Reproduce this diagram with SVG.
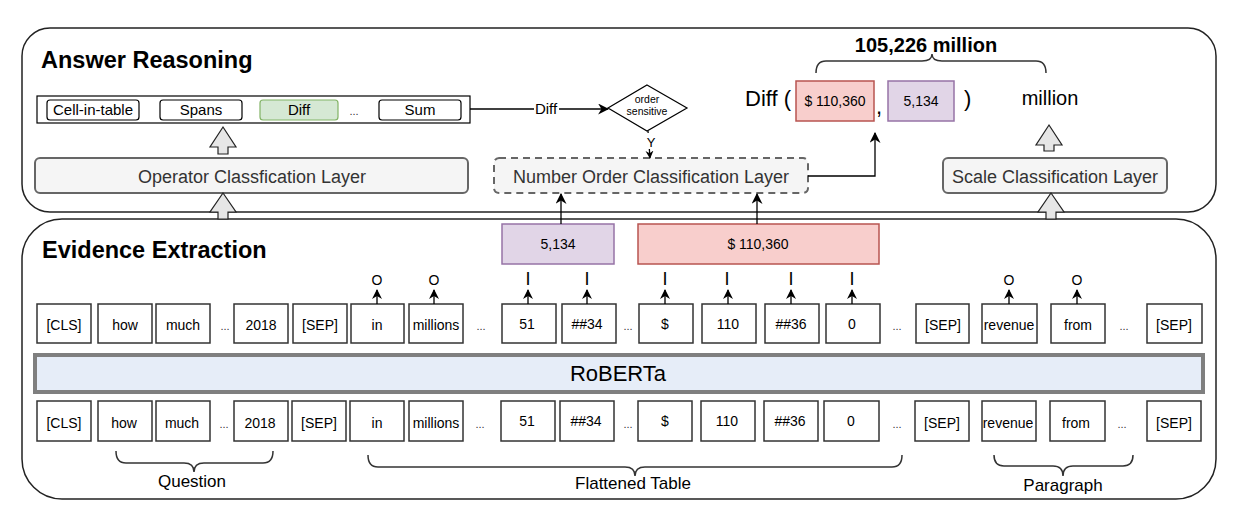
<svg xmlns="http://www.w3.org/2000/svg" width="1239" height="517" viewBox="0 0 1239 517">
<defs>
<marker id="ah" viewBox="0 0 10 10" refX="9" refY="5" markerWidth="8" markerHeight="8" orient="auto" markerUnits="userSpaceOnUse">
<path d="M0,0 L10,5 L0,10 L3,5 z" fill="#000"/>
</marker>
<marker id="ahs" viewBox="0 0 10 10" refX="9" refY="5" markerWidth="10" markerHeight="10" orient="auto" markerUnits="userSpaceOnUse">
<path d="M0,0 L10,5 L0,10 L3,5 z" fill="#000"/>
</marker>
<marker id="ahb" viewBox="0 0 10 10" refX="9" refY="5" markerWidth="11" markerHeight="11" orient="auto" markerUnits="userSpaceOnUse">
<path d="M0,0 L10,5 L0,10 L3,5 z" fill="#000"/>
</marker>
</defs>
<style>
text{font-family:"Liberation Sans",Arial,sans-serif;fill:#000}
.cont{fill:#fff;stroke:#222;stroke-width:1.5}
.title{font-size:23.5px;font-weight:bold}
.layer{fill:#f5f5f5;stroke:#666;stroke-width:2}
.ltxt{font-size:18px;fill:#333;text-anchor:middle}
.op{fill:#fff;stroke:#000;stroke-width:1.2}
.optxt{font-size:15px;text-anchor:middle}
.tok{fill:#fff;stroke:#333;stroke-width:1.5}
.tt{font-size:14px;text-anchor:middle}
.dots{font-size:11px;fill:#333;text-anchor:middle}
.tag{font-size:14px;text-anchor:middle}
.tagi{font-size:18px;text-anchor:middle}
.blk{fill:#e6e6e6;stroke:#222;stroke-width:1.2}
.ln{fill:none;stroke:#000;stroke-width:1.3}
.brace{fill:none;stroke:#333;stroke-width:1.5}
.red{fill:#f8cecc;stroke:#b85450;stroke-width:1.5}
.pur{fill:#e1d5e7;stroke:#9673a6;stroke-width:1.5}
.lbl{font-size:17px;text-anchor:middle}
</style>

<g id="answer-reasoning">
<rect class="cont" x="22" y="28" width="1194" height="184" rx="28"/>
<text class="title" x="41" y="68">Answer Reasoning</text>
</g>
<g id="evidence-extraction">
<rect class="cont" x="22" y="219" width="1194" height="280" rx="40"/>
<text class="title" x="42" y="258">Evidence Extraction</text>
</g>

<g id="operator-list">
<rect x="37" y="96" width="433" height="27" fill="#fff" stroke="#000" stroke-width="1.2"/>
<rect class="op" x="47" y="100" width="92" height="20" rx="3"/>
<text class="optxt" x="93" y="115">Cell-in-table</text>
<rect class="op" x="160" y="100" width="82" height="20" rx="3"/>
<text class="optxt" x="201" y="115">Spans</text>
<rect x="260" y="100" width="78" height="20" rx="3" fill="#d5e8d4" stroke="#82b366" stroke-width="1.2"/>
<text class="optxt" x="299" y="115">Diff</text>
<text class="dots" x="354" y="115">...</text>
<rect class="op" x="379" y="100" width="82" height="20" rx="3"/>
<text class="optxt" x="420" y="115">Sum</text>
</g>

<g id="operator-layer">
<rect class="layer" x="35" y="158" width="433" height="35" rx="5"/>
<text class="ltxt" x="252" y="183">Operator Classfication Layer</text>
</g>

<g id="order-sensitive">
<polygon points="647,85 687,108 647,131 608,108" fill="#fff" stroke="#000" stroke-width="1.2"/>
<text x="647" y="103" font-size="10.5" text-anchor="middle">order</text>
<text x="647" y="115" font-size="10.5" text-anchor="middle">sensitive</text>
</g>

<g id="number-order-layer">
<rect class="layer" x="494" y="158" width="314" height="35" rx="5" stroke-dasharray="7,5"/>
<text class="ltxt" x="651" y="183">Number Order Classification Layer</text>
</g>

<g id="scale-layer">
<rect class="layer" x="943" y="158" width="224" height="35" rx="5"/>
<text class="ltxt" x="1055" y="183">Scale Classification Layer</text>
</g>

<g id="result">
<text x="745" y="106" font-size="22">Diff (</text>
<rect class="red" x="796" y="81" width="78" height="40"/>
<text x="835" y="106" font-size="14" text-anchor="middle">$ 110,360</text>
<text x="879" y="114" font-size="22" text-anchor="middle">,</text>
<rect class="pur" x="888" y="81" width="66" height="40"/>
<text x="921" y="106" font-size="14" text-anchor="middle">5,134</text>
<text x="964" y="106" font-size="22">)</text>
<text x="1050" y="105" font-size="20" text-anchor="middle">million</text>
<path class="brace" d="M816,73 Q816,61 826,61 L922,61 Q932,61 932,54 Q932,61 942,61 L1036,61 Q1046,61 1046,73"/>
<text x="926" y="52" font-size="20" font-weight="bold" text-anchor="middle">105,226 million</text>
</g>

<g id="span-5134">
<rect class="pur" x="502" y="224" width="112" height="40"/>
<text x="558" y="249" font-size="14" text-anchor="middle">5,134</text>
</g>
<g id="span-110360">
<rect class="red" x="638" y="224" width="241" height="40"/>
<text x="758" y="249" font-size="14" text-anchor="middle">$ 110,360</text>
</g>

<g id="roberta">
<rect x="35" y="355" width="1168" height="37" fill="#e6edf8" stroke="#7f7f7f" stroke-width="4"/>
<text x="618" y="381" font-size="22" text-anchor="middle">RoBERTa</text>
</g>

<g id="output-tokens">
<rect class="tok" x="37" y="304" width="54" height="39"/><text class="tt" x="64" y="330">[CLS]</text>
<rect class="tok" x="98" y="304" width="54" height="39"/><text class="tt" x="125" y="330">how</text>
<rect class="tok" x="156" y="304" width="54" height="39"/><text class="tt" x="183" y="330">much</text>
<text class="dots" x="225" y="330">...</text>
<rect class="tok" x="234" y="304" width="54" height="39"/><text class="tt" x="261" y="330">2018</text>
<rect class="tok" x="293" y="304" width="54" height="39"/><text class="tt" x="320" y="330">[SEP]</text>
<rect class="tok" x="351" y="304" width="53" height="39"/><text class="tt" x="377" y="330">in</text>
<rect class="tok" x="409" y="304" width="54" height="39"/><text class="tt" x="436" y="330">millions</text>
<text class="dots" x="481" y="330">...</text>
<rect class="tok" x="502" y="304" width="54" height="39"/><text class="tt" x="527" y="329">51</text>
<rect class="tok" x="562" y="304" width="54" height="39"/><text class="tt" x="587" y="329">##34</text>
<text class="dots" x="628" y="330">...</text>
<rect class="tok" x="639" y="304" width="54" height="39"/><text class="tt" x="665" y="329">$</text>
<rect class="tok" x="702" y="304" width="54" height="39"/><text class="tt" x="728" y="329">110</text>
<rect class="tok" x="765" y="304" width="54" height="39"/><text class="tt" x="791" y="329">##36</text>
<rect class="tok" x="826" y="304" width="54" height="39"/><text class="tt" x="852" y="329">0</text>
<text class="dots" x="897" y="330">...</text>
<rect class="tok" x="916" y="304" width="53" height="39"/><text class="tt" x="943" y="330">[SEP]</text>
<rect class="tok" x="982" y="304" width="55" height="39"/><text class="tt" x="1009" y="330">revenue</text>
<rect class="tok" x="1051" y="304" width="54" height="39"/><text class="tt" x="1078" y="330">from</text>
<text class="dots" x="1124" y="330">...</text>
<rect class="tok" x="1147" y="304" width="55" height="39"/><text class="tt" x="1174" y="330">[SEP]</text>
</g>

<g id="tags">
<text class="tag" x="377" y="285">O</text>
<text class="tag" x="434" y="285">O</text>
<text class="tagi" x="528" y="285">I</text>
<text class="tagi" x="587" y="285">I</text>
<text class="tagi" x="665" y="285">I</text>
<text class="tagi" x="727" y="285">I</text>
<text class="tagi" x="791" y="285">I</text>
<text class="tagi" x="852" y="285">I</text>
<text class="tag" x="1009" y="285">O</text>
<text class="tag" x="1077" y="285">O</text>
</g>

<g id="input-tokens">
<rect class="tok" x="37" y="401" width="54" height="40"/><text class="tt" x="64" y="428">[CLS]</text>
<rect class="tok" x="98" y="401" width="54" height="40"/><text class="tt" x="124" y="428">how</text>
<rect class="tok" x="156" y="401" width="54" height="40"/><text class="tt" x="182" y="428">much</text>
<text class="dots" x="224" y="428">...</text>
<rect class="tok" x="234" y="401" width="54" height="40"/><text class="tt" x="260" y="428">2018</text>
<rect class="tok" x="292" y="401" width="54" height="40"/><text class="tt" x="319" y="428">[SEP]</text>
<rect class="tok" x="350" y="401" width="54" height="40"/><text class="tt" x="377" y="428">in</text>
<rect class="tok" x="409" y="401" width="54" height="40"/><text class="tt" x="436" y="428">millions</text>
<text class="dots" x="480" y="428">...</text>
<rect class="tok" x="501" y="401" width="54" height="40"/><text class="tt" x="527" y="426">51</text>
<rect class="tok" x="560" y="401" width="54" height="40"/><text class="tt" x="586" y="426">##34</text>
<text class="dots" x="628" y="428">...</text>
<rect class="tok" x="638" y="401" width="54" height="40"/><text class="tt" x="665" y="426">$</text>
<rect class="tok" x="701" y="401" width="54" height="40"/><text class="tt" x="727" y="426">110</text>
<rect class="tok" x="764" y="401" width="54" height="40"/><text class="tt" x="790" y="426">##36</text>
<rect class="tok" x="824" y="401" width="55" height="40"/><text class="tt" x="851" y="426">0</text>
<text class="dots" x="897" y="428">...</text>
<rect class="tok" x="915" y="401" width="54" height="40"/><text class="tt" x="942" y="428">[SEP]</text>
<rect class="tok" x="982" y="401" width="54" height="40"/><text class="tt" x="1008" y="428">revenue</text>
<rect class="tok" x="1050" y="401" width="55" height="40"/><text class="tt" x="1076" y="428">from</text>
<text class="dots" x="1122" y="428">...</text>
<rect class="tok" x="1147" y="401" width="54" height="40"/><text class="tt" x="1174" y="428">[SEP]</text>
</g>

<g id="question">
<path class="brace" d="M116,451 Q116,463 126,463 L184,463 Q194,463 194,472 Q194,463 204,463 L263,463 Q273,463 273,451"/>
<text class="lbl" x="192" y="487">Question</text>
</g>
<g id="flattened-table">
<path class="brace" d="M368,455 Q368,467 378,467 L625,467 Q635,467 635,476 Q635,467 645,467 L892,467 Q902,467 902,455"/>
<text class="lbl" x="633" y="489">Flattened Table</text>
</g>
<g id="paragraph">
<path class="brace" d="M994,455 Q994,466 1004,466 L1053,466 Q1063,466 1063,476 Q1063,466 1073,466 L1123,466 Q1133,466 1133,455"/>
<text class="lbl" x="1063" y="491">Paragraph</text>
</g>

<g id="connectors">
<polygon class="blk" points="223,127 236,147 228,147 228,154 218,154 218,147 210,147"/>
<polygon class="blk" points="223,193 236,212 228,212 228,219 218,219 218,212 210,212"/>
<polygon class="blk" points="1049,125 1062,145 1054,145 1054,151 1044,151 1044,145 1036,145"/>
<polygon class="blk" points="1051,193 1064,212 1056,212 1056,219 1046,219 1046,212 1038,212"/>
<line class="ln" x1="470" y1="109" x2="608" y2="109" marker-end="url(#ahb)"/>
<rect x="534" y="100" width="25" height="17" fill="#fff"/>
<text x="546" y="114" font-size="15" text-anchor="middle">Diff</text>
<line class="ln" x1="648" y1="131" x2="650" y2="158" marker-end="url(#ah)"/>
<rect x="643" y="133" width="16" height="16" fill="#fff"/>
<text x="651" y="147" font-size="13" text-anchor="middle">Y</text>
<polyline class="ln" points="808,176 875,176 875,133" marker-end="url(#ahb)"/>
<line class="ln" x1="561" y1="224" x2="561" y2="194" marker-end="url(#ahb)"/>
<line class="ln" x1="757" y1="224" x2="757" y2="194" marker-end="url(#ahb)"/>
<line class="ln" x1="377" y1="304" x2="377" y2="290" marker-end="url(#ahs)"/>
<line class="ln" x1="434" y1="304" x2="434" y2="290" marker-end="url(#ahs)"/>
<line class="ln" x1="528" y1="304" x2="528" y2="290" marker-end="url(#ahs)"/>
<line class="ln" x1="587" y1="304" x2="587" y2="290" marker-end="url(#ahs)"/>
<line class="ln" x1="665" y1="304" x2="665" y2="290" marker-end="url(#ahs)"/>
<line class="ln" x1="728" y1="304" x2="728" y2="290" marker-end="url(#ahs)"/>
<line class="ln" x1="791" y1="304" x2="791" y2="290" marker-end="url(#ahs)"/>
<line class="ln" x1="852" y1="304" x2="852" y2="290" marker-end="url(#ahs)"/>
<line class="ln" x1="1009" y1="304" x2="1009" y2="290" marker-end="url(#ahs)"/>
<line class="ln" x1="1077" y1="304" x2="1077" y2="290" marker-end="url(#ahs)"/>
</g>
</svg>
